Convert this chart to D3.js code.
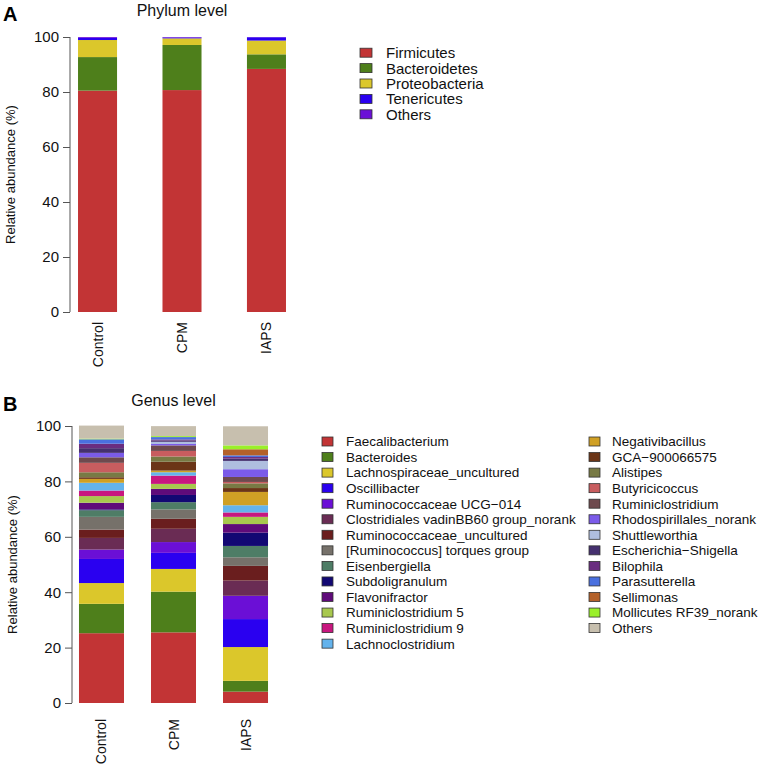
<!DOCTYPE html>
<html>
<head>
<meta charset="utf-8">
<script src="https://cdn.jsdelivr.net/npm/d3@7"></script>
<style>
  body { margin: 0; background: #fff; }
  svg { display: block; font-family: "Liberation Sans", Arial, Helvetica, sans-serif; }
</style>
</head>
<body>
<svg id="chart" width="759" height="766"></svg>
<script>
// ---------- DATA ----------
const samples = ["Control", "CPM", "IAPS"];
const yTicks = [0, 20, 40, 60, 80, 100];

const phyla = ["Firmicutes", "Bacteroidetes", "Proteobacteria", "Tenericutes", "Others"];
const phylaColors = ["#C23435", "#4E7F1B", "#DBC72B", "#2A00F0", "#6B10D6"];
const phylumControl = [80.5, 12.2, 6.2, 0.8, 0.3];
const phylumCPM     = [80.7, 16.4, 2.4, 0.3, 0.2];
const phylumIAPS    = [88.4, 5.3, 5.0, 1.2, 0.1];

const genera = ["Faecalibacterium", "Bacteroides", "Lachnospiraceae_uncultured", "Oscillibacter",
  "Ruminococcaceae UCG\u2212014", "Clostridiales vadinBB60 group_norank", "Ruminococcaceae_uncultured",
  "[Ruminococcus] torques group", "Eisenbergiella", "Subdoligranulum", "Flavonifractor",
  "Ruminiclostridium 5", "Ruminiclostridium 9", "Lachnoclostridium", "Negativibacillus",
  "GCA\u2212900066575", "Alistipes", "Butyricicoccus", "Ruminiclostridium", "Rhodospirillales_norank",
  "Shuttleworthia", "Escherichia\u2212Shigella", "Bilophila", "Parasutterella", "Sellimonas",
  "Mollicutes RF39_norank", "Others"];
const generaColors = ["#C23435", "#4E7F1B", "#DBC72B", "#2A00F0", "#6B0FD6", "#6A2C54", "#6A1E1E",
  "#76716A", "#4E7D66", "#120873", "#5F0B7A", "#A8C84E", "#C8177F", "#64B3EC", "#D0A025",
  "#6B3517", "#787A44", "#C85D5F", "#6E4A4E", "#7B5BE9", "#AFBEDF", "#45306F", "#6A2D80",
  "#4A70DF", "#B4612A", "#9AF02A", "#C7BFAE"];
const genusControl = [25.2, 10.6, 7.5, 8.7, 3.4, 4.2, 3.0, 4.6, 2.4, 0.3, 2.4, 2.4, 2.0, 2.8, 1.4,
  0.6, 1.8, 3.4, 2.0, 1.6, 0.0, 1.7, 1.6, 1.6, 0.0, 0.25, 4.7];
const genusCPM = [25.5, 14.7, 8.2, 5.8, 3.9, 4.8, 3.6, 3.4, 2.6, 2.6, 2.2, 1.8, 3.0, 1.2, 0.6,
  3.2, 1.9, 2.0, 2.0, 0.5, 0.8, 0.5, 0.35, 0.85, 0.0, 0.35, 3.6];
const genusIAPS = [4.1, 3.9, 12.2, 10.1, 8.4, 5.5, 5.3, 3.1, 4.1, 4.8, 3.1, 2.6, 1.6, 2.6, 4.8,
  1.4, 1.7, 0.5, 1.8, 2.8, 3.0, 0.8, 0.6, 0.6, 2.2, 1.4, 6.9];

// ---------- DRAW ----------
const svg = d3.select("#chart");
const FONT = '"Liberation Sans", Arial, Helvetica, sans-serif';

function makeRows(keys, seriesList) {
  return samples.map((s, i) => {
    const row = { sample: s };
    keys.forEach((k, j) => { row[k] = seriesList[i][j]; });
    return row;
  });
}

function panel(cfg) {
  const g = svg.append("g");
  const x = d3.scaleBand().domain(samples).range(cfg.xRange)
    .paddingInner(cfg.padIn).paddingOuter(cfg.padOut);
  const y = d3.scaleLinear().domain([0, 100]).range([cfg.bottom, cfg.top]);
  const rows = makeRows(cfg.keys, cfg.values);
  const stack = d3.stack().keys(cfg.keys)(rows);
  const color = d3.scaleOrdinal().domain(cfg.keys).range(cfg.colors);

  g.selectAll("g.layer").data(stack).join("g")
    .attr("fill", d => color(d.key))
    .selectAll("rect").data(d => d).join("rect")
    .attr("x", d => x(d.data.sample))
    .attr("width", x.bandwidth())
    .attr("y", d => y(d[1]))
    .attr("height", d => Math.max(0, y(d[0]) - y(d[1])));

  // y axis (R style)
  const ax = g.append("g").attr("transform", `translate(${cfg.xRange[0]},0)`)
    .call(d3.axisLeft(y).tickValues(yTicks).tickSize(7).tickPadding(4).tickFormat(d3.format("d")));
  ax.select(".domain").attr("stroke", "#555").attr("d", `M-0.5,${y(0)}V${y(100)}`).attr("transform", "translate(0.5,0)");
  ax.selectAll(".tick line").attr("stroke", "#555");
  ax.selectAll(".tick text").attr("font-family", FONT).attr("font-size", cfg.tickFont).attr("fill", "#111");

  // x labels, rotated
  g.selectAll("text.xl").data(samples).join("text")
    .attr("class", "xl")
    .attr("transform", d => `translate(${x(d) + x.bandwidth() / 2 + 5},${cfg.bottom + cfg.xLabGap}) rotate(-90)`)
    .attr("text-anchor", "end")
    .attr("font-size", cfg.xFont)
    .attr("fill", "#111")
    .text(d => d);

  // y title
  g.append("text")
    .attr("transform", `translate(${cfg.yTitleX},${(cfg.top + cfg.bottom) / 2}) rotate(-90)`)
    .attr("text-anchor", "middle")
    .attr("font-size", 13)
    .attr("fill", "#111")
    .text("Relative abundance (%)");

  // main title
  g.append("text")
    .attr("x", (cfg.xRange[0] + cfg.xRange[1]) / 2)
    .attr("y", cfg.titleY)
    .attr("text-anchor", "middle")
    .attr("font-size", 16)
    .attr("fill", "#111")
    .text(cfg.title);

  // panel letter
  g.append("text")
    .attr("x", 3).attr("y", cfg.letterY)
    .attr("font-size", 20).attr("font-weight", "bold")
    .attr("fill", "#000")
    .text(cfg.letter);

  // legend
  cfg.legendCols.forEach(col => {
    const items = cfg.keys.slice(col.from, col.to);
    const lg = g.append("g");
    items.forEach((k, i) => {
      const cy = col.y0 + i * cfg.legendStep;
      lg.append("rect")
        .attr("x", col.x).attr("y", cy - cfg.boxH / 2)
        .attr("width", cfg.boxW).attr("height", cfg.boxH)
        .attr("fill", color(k)).attr("stroke", "#333").attr("stroke-width", 0.8);
      lg.append("text")
        .attr("x", col.x + col.textDx).attr("y", cy)
        .attr("dy", "0.36em")
        .attr("font-size", cfg.legendFont)
        .attr("fill", "#111")
        .text(k);
    });
  });
}

panel({
  letter: "A", letterY: 21, title: "Phylum level", titleY: 16,
  keys: phyla, colors: phylaColors,
  values: [phylumControl, phylumCPM, phylumIAPS],
  xRange: [70, 294], padIn: 0.538, padOut: 0.095,
  top: 37, bottom: 312, tickFont: 15, xFont: 14, xLabGap: 10, yTitleX: 15,
  legendCols: [{ from: 0, to: 5, x: 360, y0: 52.7, textDx: 26 }],
  legendStep: 15.4, boxW: 12, boxH: 9, legendFont: 15
});

panel({
  letter: "B", letterY: 411, title: "Genus level", titleY: 406,
  keys: genera, colors: generaColors,
  values: [genusControl, genusCPM, genusIAPS],
  xRange: [72, 275], padIn: 0.375, padOut: 0.097,
  top: 426, bottom: 703, tickFont: 15, xFont: 14, xLabGap: 16, yTitleX: 17,
  legendCols: [{ from: 0, to: 14, x: 322, y0: 441.5, textDx: 24 },
               { from: 14, to: 27, x: 589, y0: 441.5, textDx: 23 }],
  legendStep: 15.55, boxW: 11, boxH: 9, legendFont: 13.5
});
</script>
</body>
</html>
